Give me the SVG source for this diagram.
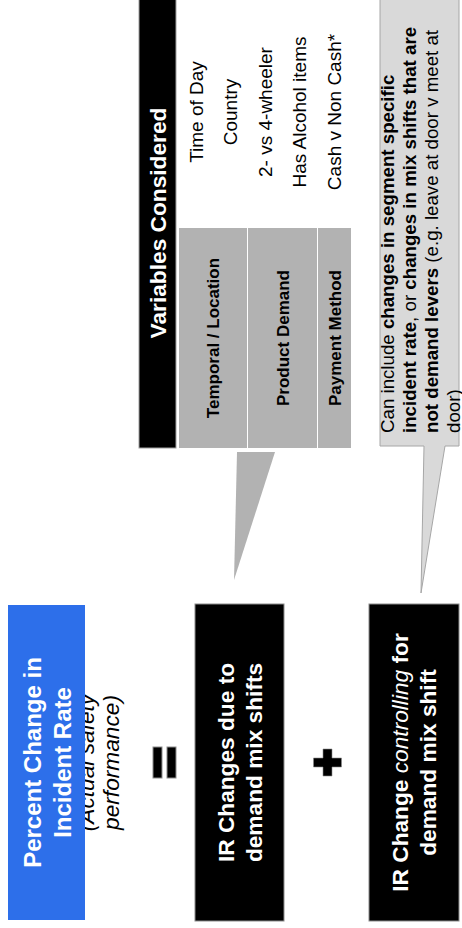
<svg xmlns="http://www.w3.org/2000/svg" width="462" height="928" viewBox="0 0 462 928">
<style>
text{font-family:"Liberation Sans",Arial,Helvetica,sans-serif;}
.wb24{font-size:24px;font-weight:bold;fill:#fff;text-anchor:middle;}
.wb23{font-size:22.7px;font-weight:bold;fill:#fff;text-anchor:middle;}
.it{font-size:22.7px;font-style:italic;fill:#000;text-anchor:middle;}
.cell{font-size:17px;font-weight:bold;fill:#000;text-anchor:middle;}
.var{font-size:19px;fill:#000;text-anchor:middle;}
.note{font-size:18.7px;fill:#000;}
.b{font-weight:bold;}
.blk{fill:#000;stroke:#8c8c8c;stroke-width:1;}
.gcell{fill:#b2b2b2;}
</style>
<rect width="462" height="928" fill="#fff"/>
<g transform="translate(0,928) rotate(-90)">
  <g id="connectors">
    <polygon points="476,237 476,275 348,234" fill="#b2b2b2"/>
  </g>
  <g id="percent-change">
    <text class="it" x="165.5" y="94">(Actual safety</text>
    <text class="it" x="165.5" y="119">performance)</text>
    <rect x="8" y="8" width="315" height="77" fill="#2d6fea"/>
    <text class="wb24" x="165.5" y="40.5">Percent Change in</text>
    <text class="wb24" x="165.5" y="70.5">Incident Rate</text>
  </g>
  <g id="equals">
    <rect class="blk" x="150" y="153" width="31" height="9" stroke-width="0.6"/>
    <rect class="blk" x="150" y="167" width="31" height="9" stroke-width="0.6"/>
  </g>
  <g id="mix-shift">
    <rect class="blk" x="7" y="195" width="317" height="89"/>
    <text class="wb23" x="165.5" y="234">IR Changes due to</text>
    <text class="wb23" x="165.5" y="262">demand mix shifts</text>
  </g>
  <g id="plus">
    <path d="M152,323 H161 V313.5 H170 V323 H179 V332 H170 V341.5 H161 V332 H152 Z" fill="#000" stroke="#8c8c8c" stroke-width="0.6"/>
  </g>
  <g id="controlling">
    <rect class="blk" x="7" y="369" width="317" height="90"/>
    <text class="wb23" x="165.5" y="408">IR Change <tspan font-style="italic" font-weight="normal">controlling</tspan> for</text>
    <text class="wb23" x="165.5" y="436">demand mix shift</text>
  </g>
  <g id="variables-table">
    <rect x="480" y="139" width="460" height="37" fill="#000" stroke="#a0a0a0" stroke-width="1"/>
    <text class="wb23" x="705" y="165.5">Variables Considered</text>
    <rect class="gcell" x="480" y="179" width="220" height="68"/>
    <rect class="gcell" x="480" y="248" width="220" height="69"/>
    <rect class="gcell" x="480" y="318" width="220" height="33"/>
    <text class="cell" x="590" y="219">Temporal / Location</text>
    <text class="cell" x="590" y="289">Product Demand</text>
    <text class="cell" x="590" y="340.5">Payment Method</text>
    <text class="var" x="816" y="202.5">Time of Day</text>
    <text class="var" x="816" y="236.5">Country</text>
    <text class="var" x="816" y="271.5">2- vs 4-wheeler</text>
    <text class="var" x="816" y="305.5">Has Alcohol items</text>
    <text class="var" x="816" y="341">Cash v Non Cash*</text>
  </g>
  <g id="callout">
    <path d="M482,380 H940 V459 H482 V445 L335,421 L482,424 Z" fill="#d9d9d9" stroke="#a6a6a6" stroke-width="1"/>
    <text class="note" x="495" y="393.5">Can include <tspan class="b">changes in segment specific</tspan></text>
    <text class="note" x="495" y="415.5"><tspan class="b">incident rate</tspan>, or <tspan class="b">changes in mix shifts that are</tspan></text>
    <text class="note" x="495" y="437.5"><tspan class="b">not demand levers</tspan> (e.g. leave at door v meet at</text>
    <text class="note" x="495" y="459.5">door)</text>
  </g>
</g>
</svg>
